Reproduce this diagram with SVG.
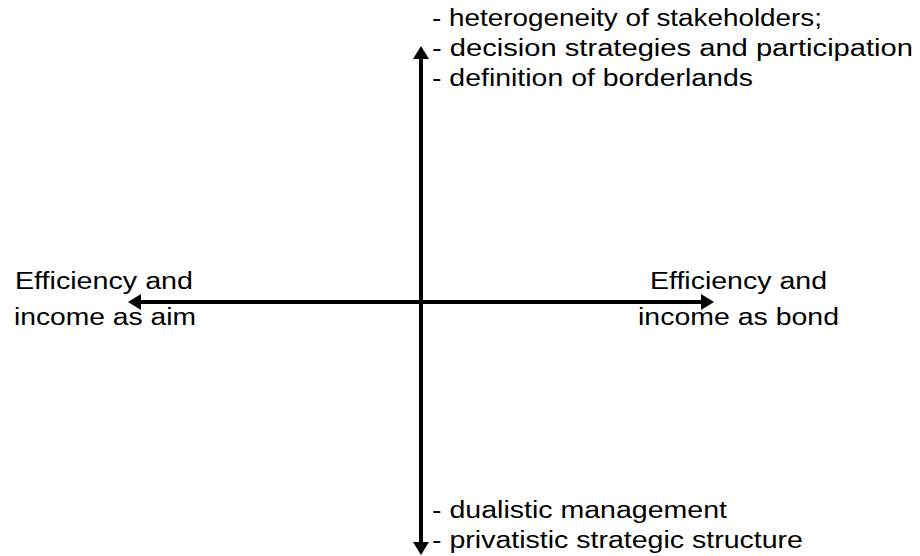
<svg xmlns="http://www.w3.org/2000/svg" width="920" height="556" viewBox="0 0 920 556">
<style>
  .lbl { font-family: "Liberation Sans", Arial, sans-serif; font-size: 23.5px; fill: #000; }
  .axis { stroke: #000; stroke-width: 4; fill: none; }
</style>
<defs>
  <marker id="ah" markerUnits="userSpaceOnUse" markerWidth="14" markerHeight="16" viewBox="0 0 14 16" refX="1" refY="8" orient="auto-start-reverse">
    <path d="M0,0 L13,8 L0,16 z" fill="#000"/>
  </marker>
</defs>
<rect width="920" height="556" fill="#fff"/>
<g id="connectors">
  <line class="axis" x1="421" y1="58" x2="421" y2="543" marker-start="url(#ah)" marker-end="url(#ah)"/>
  <line class="axis" x1="140" y1="302" x2="702" y2="302" marker-start="url(#ah)" marker-end="url(#ah)"/>
</g>
<g id="top-label">
  <text class="lbl" x="432" y="26" textLength="390" lengthAdjust="spacingAndGlyphs">- heterogeneity of stakeholders;</text>
  <text class="lbl" x="432" y="56" textLength="481" lengthAdjust="spacingAndGlyphs">- decision strategies and participation</text>
  <text class="lbl" x="432" y="86" textLength="321" lengthAdjust="spacingAndGlyphs">- definition of borderlands</text>
</g>
<g id="bottom-label">
  <text class="lbl" x="432" y="518" textLength="295" lengthAdjust="spacingAndGlyphs">- dualistic management</text>
  <text class="lbl" x="432" y="548" textLength="371" lengthAdjust="spacingAndGlyphs">- privatistic strategic structure</text>
</g>
<g id="left-label">
  <text class="lbl" x="15" y="289" textLength="178" lengthAdjust="spacingAndGlyphs">Efficiency and</text>
  <text class="lbl" x="14" y="325" textLength="182" lengthAdjust="spacingAndGlyphs">income as aim</text>
</g>
<g id="right-label">
  <text class="lbl" x="650" y="289" textLength="177" lengthAdjust="spacingAndGlyphs">Efficiency and</text>
  <text class="lbl" x="638" y="325" textLength="201" lengthAdjust="spacingAndGlyphs">income as bond</text>
</g>
</svg>
